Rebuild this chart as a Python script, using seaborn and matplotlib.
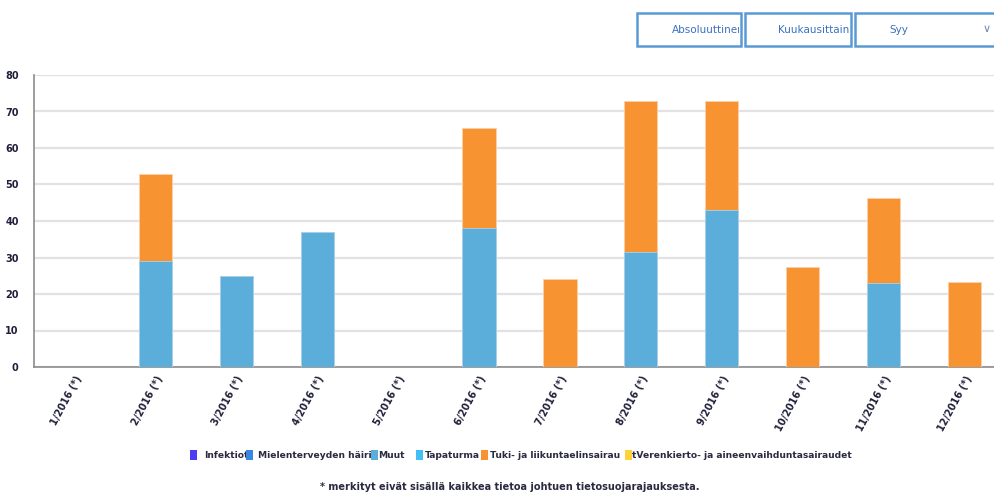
import matplotlib
matplotlib.use("Agg")
import matplotlib.pyplot as plt
from matplotlib.patches import Rectangle
import seaborn as sns
import pandas as pd

months = ["1/2016 (*)", "2/2016 (*)", "3/2016 (*)", "4/2016 (*)", "5/2016 (*)", "6/2016 (*)",
          "7/2016 (*)", "8/2016 (*)", "9/2016 (*)", "10/2016 (*)", "11/2016 (*)", "12/2016 (*)"]
muut = [0, 29, 25, 37, 0, 38, 0, 31.5, 43, 0, 23, 0]
tuki = [0, 24, 0, 0, 0, 27.5, 24, 41.5, 30, 27.3, 23.4, 23.3]

series_names = ["Infektiot", "Mielenterveyden häiriöt", "Muut", "Tapaturmat",
                "Tuki- ja liikuntaelinsairaudet", "Verenkierto- ja aineenvaihduntasairaudet"]
legend_shown = ["Infektiot", "Mielenterveyden häiri", "Muut", "Tapaturma",
                "Tuki- ja liikuntaelinsairau", "tVerenkierto- ja aineenvaihduntasairaudet"]
series_colors = ["#4b3cf5", "#3a86e3", "#5badda", "#41c0f3", "#f89331", "#ffd23c"]

yticks = [0, 10, 20, 30, 40, 50, 60, 70, 80]
footnote = "* merkityt eivät sisällä kaikkea tietoa johtuen tietosuojarajauksesta."
buttons = ["Absoluuttinen", "Kuukausittain", "Syy"]

sns.set_theme(style="white")
plt.rcParams["font.family"] = ["DejaVu Sans"]

W, H = 995, 493
fig = plt.figure(figsize=(W / 100, H / 100), dpi=100)
fig.patch.set_facecolor("white")

x0, x1, ybot, ytop = 34, 1005, 367, 75
ax = fig.add_axes([x0 / W, 1 - ybot / H, (x1 - x0) / W, (ybot - ytop) / H])

df = pd.DataFrame({"month": months, "Muut": muut, "Tuki": tuki})
df["total"] = df["Muut"] + df["Tuki"]

sns.barplot(data=df, x="month", y="total", color=series_colors[4], width=0.41,
            saturation=1, ax=ax, zorder=3, edgecolor="#fcd0a8", linewidth=0.6)
sns.barplot(data=df, x="month", y="Muut", color=series_colors[2], width=0.41,
            saturation=1, ax=ax, zorder=4, edgecolor="#a9d3ee", linewidth=0.6)

ax.set_xlim(-0.5, len(months) - 0.5)
ax.set_ylim(0, 80)
ax.set_yticks(yticks)
ax.set_xlabel("")
ax.set_ylabel("")
ax.grid(axis="y", color="#e2e2e2", linewidth=1.6, zorder=0)
ax.set_axisbelow(True)
for s in ["top", "right"]:
    ax.spines[s].set_visible(False)
for s in ["left", "bottom"]:
    ax.spines[s].set_color("#8c8c8c")
    ax.spines[s].set_linewidth(1.2)

ax.tick_params(axis="y", length=5, width=1, color="#8c8c8c", pad=6,
               labelsize=7, labelcolor="#20203a")
for t in ax.get_yticklabels():
    t.set_fontweight("bold")

ax.set_xticks(range(len(months)))
ax.set_xticklabels(months, rotation=62, ha="right", rotation_mode="anchor",
                   fontsize=7, fontweight="bold", color="#20203a")
ax.tick_params(axis="x", length=0, pad=5)
ax.set_xticks([i + 0.5 for i in range(-1, len(months))], minor=True)
ax.tick_params(axis="x", which="minor", length=5, width=1, color="#8c8c8c")

# legend (drawn manually to match the truncated HTML legend)
sq_x = [190, 246, 371, 416, 481, 625]
tx_x = [204, 258, 378, 425, 490, 632]
ly = 455
for sx, tx, lab, col in zip(sq_x, tx_x, legend_shown, series_colors):
    fig.text(tx / W, 1 - ly / H, lab, fontsize=6.6, fontweight="bold",
             color="#2a2a40", va="center", ha="left")
    fig.patches.append(Rectangle((sx / W, 1 - (ly + 5) / H), 7 / W, 10 / H,
                                 transform=fig.transFigure, facecolor=col,
                                 edgecolor="none", zorder=5))

fig.text(510 / W, 1 - 487 / H, footnote, fontsize=7, fontweight="bold",
         color="#2a2a40", ha="center", va="center")

# top controls
boxes = [(637, 741), (745, 851), (855, 1003)]
text_x = [672, 778, 889]
for (bx0, bx1), tx, lab in zip(boxes, text_x, buttons):
    rect = Rectangle((bx0 / W, 1 - 46 / H), (bx1 - bx0) / W, 33 / H,
                     transform=fig.transFigure, facecolor="white",
                     edgecolor="#5a9ad4", linewidth=1.8)
    fig.patches.append(rect)
    t = fig.text(tx / W, 1 - 30 / H, lab, fontsize=7.5, color="#3a70c0",
                 ha="left", va="center")
    clip = Rectangle((bx0 / W, 1 - 46 / H), (bx1 - bx0 - 2) / W, 33 / H,
                     transform=fig.transFigure)
    t.set_clip_path(clip)
fig.text(987 / W, 1 - 29 / H, "∨", fontsize=8, color="#6a8ab0", ha="center", va="center")

fig.savefig("out.png", dpi=100)
